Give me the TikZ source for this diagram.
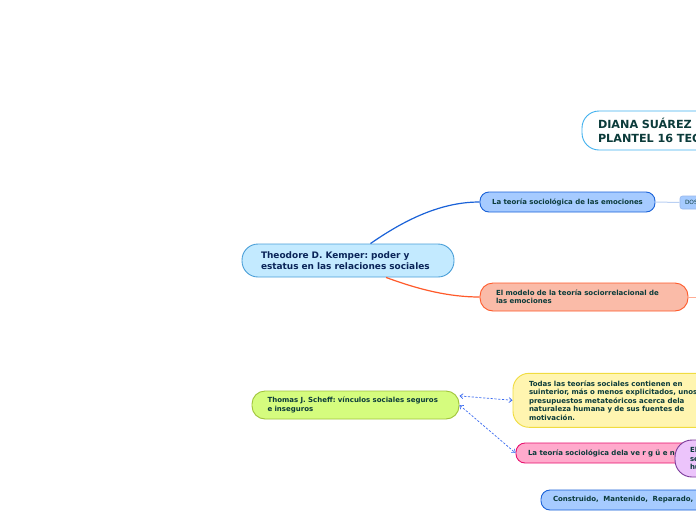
\documentclass[tikz,border=0pt]{standalone}
\usepackage{fontspec}
\setmainfont{DejaVu Sans}
\usetikzlibrary{arrows.meta}
\definecolor{inkdark}{HTML}{0B3B3A}
\definecolor{inknavy}{HTML}{0A2458}
\definecolor{bluefill}{HTML}{A6CBFF}
\definecolor{blueline}{HTML}{1A62D8}
\definecolor{titleline}{HTML}{3FB0EE}
\definecolor{centfill}{HTML}{C3EAFF}
\definecolor{centline}{HTML}{4A9FD8}
\definecolor{salfill}{HTML}{FABBA8}
\definecolor{salline}{HTML}{FF5A2A}
\definecolor{grnfill}{HTML}{D5FC7E}
\definecolor{grnline}{HTML}{A0C43A}
\definecolor{yelfill}{HTML}{FFF5B0}
\definecolor{yelline}{HTML}{F0DC40}
\definecolor{pinkfill}{HTML}{FFAACC}
\definecolor{pinkline}{HTML}{E8106E}
\definecolor{purfill}{HTML}{ECC4FB}
\definecolor{purline}{HTML}{7A3A9A}
\definecolor{dashblue}{HTML}{3A6AF0}
\tikzset{
  box/.style={rectangle,rounded corners=#1,draw,line width=0.9pt,inner sep=0pt,anchor=center,text=inkdark,font=\bfseries},
  box/.default=10pt,
  dashlink/.style={draw=dashblue,line width=0.7pt,dash pattern=on 2.2pt off 1.6pt,{Straight Barb[length=3pt,width=5pt]}-{Straight Barb[length=3pt,width=5pt]}}
}
\begin{document}
\frenchspacing
\begin{tikzpicture}[x=1pt,y=-1pt]
\useasboundingbox (0,0) rectangle (696,520);
\clip (0,0) rectangle (696,520);
\fill[white] (0,0) rectangle (696,520);
% nodes
\node[box=17pt,draw=titleline,fill=white,minimum width=160pt,minimum height=39pt,text width=128pt,font=\bfseries\fontsize{11.2}{14}\selectfont] (title) at (662,130.5) {DIANA SUÁREZ\\PLANTEL 16 TEC};
\node[box=9pt,draw=blueline,fill=bluefill,minimum width=175pt,minimum height=20pt,text depth=1.2pt,align=center,font=\bfseries\fontsize{6.95}{9}\selectfont] (teoria) at (567.5,202) {La teoría sociológica de las emociones};
\node[box=2.5pt,draw=blueline!45,fill=bluefill,line width=0.6pt,minimum width=40pt,minimum height=13pt,text width=30pt,font=\fontsize{5.8}{7}\selectfont] (dos) at (700,202.5) {DOS};
\node[box=16pt,draw=centline,fill=centfill,minimum width=212pt,minimum height=33pt,text width=174pt,text=inknavy,font=\bfseries\fontsize{8.95}{11}\selectfont] (central) at (348,260.5) {\raisebox{-0.8pt}{\mbox{Theodore D. Kemper: poder y}}\\\raisebox{-0.8pt}{\mbox{estatus en las relaciones sociales}}};
\node[box=13pt,draw=salline,fill=salfill,minimum width=208pt,minimum height=28pt,text width=176pt,font=\bfseries\fontsize{7}{8.4}\selectfont] (modelo) at (584,297) {El modelo de la teoría sociorrelacional de\\las emociones};
\node[box=13pt,draw=grnline,fill=grnfill,minimum width=207pt,minimum height=28pt,text width=176pt,font=\bfseries\fontsize{7}{8.4}\selectfont] (scheff) at (355.5,405) {Thomas J. Scheff: vínculos sociales seguros\\e inseguros};
\node[box=16pt,draw=yelline,fill=yelfill,minimum width=206pt,minimum height=54pt,text width=174pt,font=\bfseries\fontsize{7}{8.5}\selectfont] (todas) at (616,400.3) {Todas las teorías sociales contienen en\\suinterior, más o menos explicitados, unos\\presupuestos metateóricos acerca dela\\naturaleza humana y de sus fuentes de\\motivación.};
\node[box=9pt,draw=pinkline,fill=pinkfill,minimum width=190pt,minimum height=20pt,text width=166pt,font=\bfseries\fontsize{7}{9}\selectfont] (verg) at (611,453) {\raisebox{-0.6pt}{La teoría sociológica dela ve r g ü e n}};
\node[box=17pt,draw=purline,fill=purfill,minimum width=60pt,minimum height=37pt,text width=30pt,font=\bfseries\fontsize{7}{8.4}\selectfont] (el) at (705,458.5) {El\\se\\hu};
\node[box=9pt,draw=blueline,fill=bluefill,minimum width=220pt,minimum height=20pt,text width=196pt,font=\bfseries\fontsize{7}{9}\selectfont] (constr) at (651,500) {\raisebox{-0.6pt}{Construido,\ \ Mantenido,\ \ Reparado, R}};
\coordinate (modelout) at (700,297);
% connectors
\begin{scope}[line width=1.2pt]
\draw[blueline] (central.37) .. controls (410,216) and (445,202) .. (teoria.west);
\draw[salline] (central.-24) .. controls (420,290) and (450,297) .. (modelo.west);
\end{scope}
\draw[blueline!30,line width=1pt] (teoria.east) -- (dos.west);
\draw[salline!50,line width=1pt] (modelo.east) -- (modelout);
\draw[dashlink] (scheff.5) -- (todas.west);
\draw[dashlink] (scheff.east) -- (verg.west);
\end{tikzpicture}
\end{document}
